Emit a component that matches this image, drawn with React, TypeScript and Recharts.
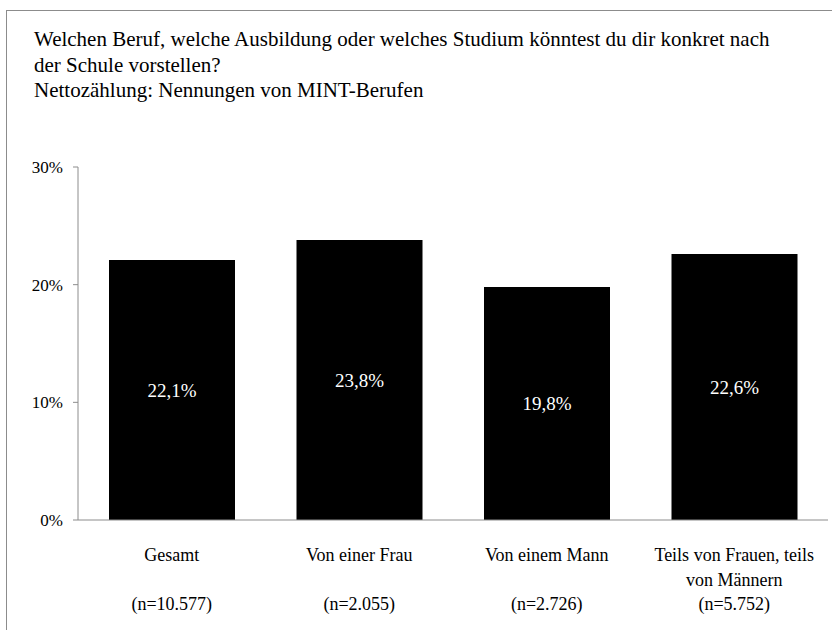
import type { FC } from 'react';
import { BarChart, Bar, XAxis, YAxis, LabelList } from 'recharts';

const categories = ['Gesamt', 'Von einer Frau', 'Von einem Mann', 'Teils von Frauen, teils von M\u00e4nnern'];
const categoryLines = [['Gesamt'], ['Von einer Frau'], ['Von einem Mann'], ['Teils von Frauen, teils', 'von M\u00e4nnern']];
const sampleSizes = ['(n=10.577)', '(n=2.055)', '(n=2.726)', '(n=5.752)'];
const shares = [22.1, 23.8, 19.8, 22.6];
const yTicks = [0, 10, 20, 30];

const titleLines = [
    'Welchen Beruf, welche Ausbildung oder welches Studium k\u00f6nntest du dir konkret nach',
    'der Schule vorstellen?',
    'Nettoz\u00e4hlung: Nennungen von MINT-Berufen',
];

const data = categories.map((name, i) => ({ name, value: shares[i] }));

// font name built at runtime
const FONT = `"${['Liberation', 'Serif'].join(' ')}"`;

const CategoryTick: FC<any> = ({ x, y, payload }) => {
    const i = payload.index;
    const lines = categoryLines[i];
    return (
        <g transform={`translate(${x},${y})`}>
            {lines.map((l, k) => (
                <text key={k} x={0} y={33 + k * 25} textAnchor="middle" style={{ fontFamily: FONT }} fontSize={18} fill="#000">{l}</text>
            ))}
            <text x={0} y={82} textAnchor="middle" style={{ fontFamily: FONT }} fontSize={18} fill="#000">{sampleSizes[i]}</text>
        </g>
    );
};

const App: FC = () => {
    return (
        <div style={{ position: 'relative', width: 832, height: 630, background: '#fff', overflow: 'hidden', fontFamily: FONT }}>
            <style>{'body{margin:0}'}</style>
            <div style={{ position: 'absolute', left: 6, top: 10, width: 900, height: 700, border: '1px solid #8c8c8c' }} />
            <div style={{ position: 'absolute', left: 34, top: 27, fontFamily: FONT, fontSize: 21, lineHeight: '25.5px', color: '#000', whiteSpace: 'nowrap' }}>
                {titleLines.map((t, i) => <div key={i}>{t}</div>)}
            </div>
            <div style={{ position: 'absolute', left: 0, top: 0 }}>
                <BarChart width={832} height={630} data={data} margin={{ top: 167, right: 4, bottom: 30, left: 0 }} barCategoryGap={31}>
                    <XAxis dataKey="name" height={80} tickLine={false} axisLine={{ stroke: '#8c8c8c' }} interval={0} tick={<CategoryTick />} />
                    <YAxis
                        width={78}
                        domain={[0, 30]}
                        ticks={yTicks}
                        tickFormatter={(v: number) => `${v}%`}
                        tickSize={5}
                        tickLine={{ stroke: '#8c8c8c' }}
                        axisLine={{ stroke: '#8c8c8c' }}
                        tick={{ style: { fontFamily: FONT }, fontSize: 17, fill: '#000' }}
                        tickMargin={10}
                    />
                    <Bar dataKey="value" fill="#000" isAnimationActive={false}>
                        <LabelList
                            dataKey="value"
                            position="center"
                            formatter={(v: any) => `${String(v).replace('.', ',')}%`}
                            style={{ fontFamily: FONT, fontSize: 19, fill: '#fff' }}
                        />
                    </Bar>
                </BarChart>
            </div>
        </div>
    );
};

export default App;
